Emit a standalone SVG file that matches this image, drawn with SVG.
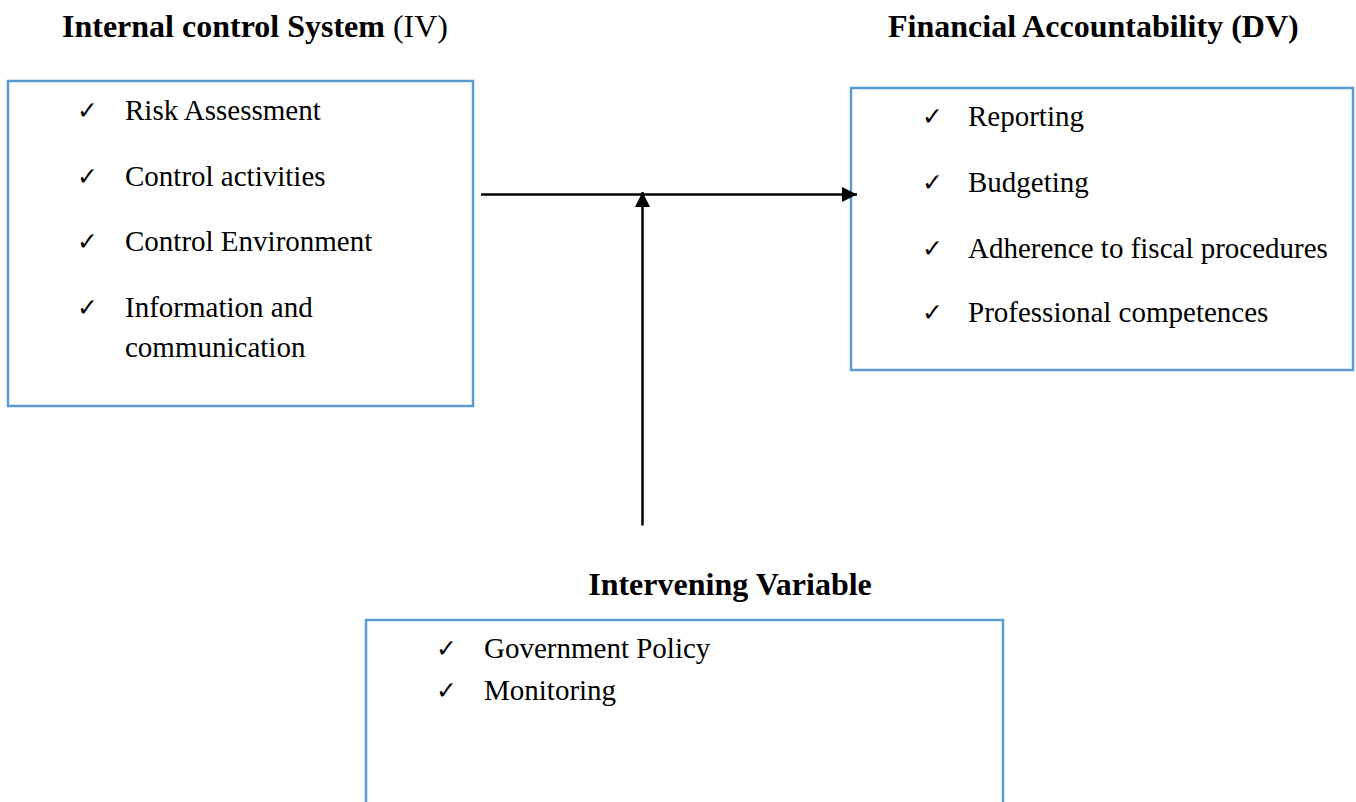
<svg xmlns="http://www.w3.org/2000/svg" width="1356" height="802" viewBox="0 0 1356 802">
  <style>
    .box { fill: #ffffff; stroke: #5B9BD5; stroke-width: 2.5; }
    .title { font-family: "Liberation Serif", "Times New Roman", serif; font-size: 32px; font-weight: bold; fill: #000; }
    .reg { font-weight: normal; }
    .item { font-family: "Liberation Serif", "Times New Roman", serif; font-size: 29px; fill: #000; }
    .tick { font-family: "DejaVu Sans", sans-serif; font-size: 25px; font-weight: bold; fill: #000; }
    .conn { stroke: #000; stroke-width: 2.5; fill: none; }
  </style>
  <defs>
    <marker id="arrow" markerUnits="userSpaceOnUse" markerWidth="16" markerHeight="16" refX="15" refY="7.5" orient="auto">
      <path d="M0,0 L15,7.5 L0,15 z" fill="#000"/>
    </marker>
  </defs>

  <rect width="1356" height="802" fill="#ffffff"/>

  <!-- Independent variable -->
  <g id="iv">
    <text class="title" x="62" y="37">Internal control System<tspan class="reg"> (IV)</tspan></text>
    <rect class="box" x="8" y="81" width="465" height="325"/>
    <text class="tick" x="77" y="119">✓</text>
    <text class="item" x="125" y="120">Risk Assessment</text>
    <text class="tick" x="77" y="185">✓</text>
    <text class="item" x="125" y="186">Control activities</text>
    <text class="tick" x="77" y="250">✓</text>
    <text class="item" x="125" y="251">Control Environment</text>
    <text class="tick" x="77" y="316">✓</text>
    <text class="item" x="125" y="317">Information and</text>
    <text class="item" x="125" y="357">communication</text>
  </g>

  <!-- Dependent variable -->
  <g id="dv">
    <text class="title" x="888" y="37">Financial Accountability (DV)</text>
    <rect class="box" x="851" y="88" width="502" height="282"/>
    <text class="tick" x="922" y="125">✓</text>
    <text class="item" x="968" y="126">Reporting</text>
    <text class="tick" x="922" y="191">✓</text>
    <text class="item" x="968" y="192">Budgeting</text>
    <text class="tick" x="922" y="257">✓</text>
    <text class="item" x="968" y="258">Adherence to fiscal procedures</text>
    <text class="tick" x="922" y="321">✓</text>
    <text class="item" x="968" y="322">Professional competences</text>
  </g>

  <!-- Intervening variable -->
  <g id="intervening">
    <text class="title" x="730" y="595" text-anchor="middle">Intervening Variable</text>
    <rect class="box" x="366" y="620" width="637" height="200"/>
    <text class="tick" x="436" y="657">✓</text>
    <text class="item" x="484" y="658">Government Policy</text>
    <text class="tick" x="436" y="699">✓</text>
    <text class="item" x="484" y="700">Monitoring</text>
  </g>

  <!-- Connectors -->
  <g id="connectors">
    <line class="conn" x1="481" y1="194.5" x2="857" y2="194.5" marker-end="url(#arrow)"/>
    <line class="conn" x1="642.5" y1="525.5" x2="642.5" y2="192" marker-end="url(#arrow)"/>
  </g>
</svg>
